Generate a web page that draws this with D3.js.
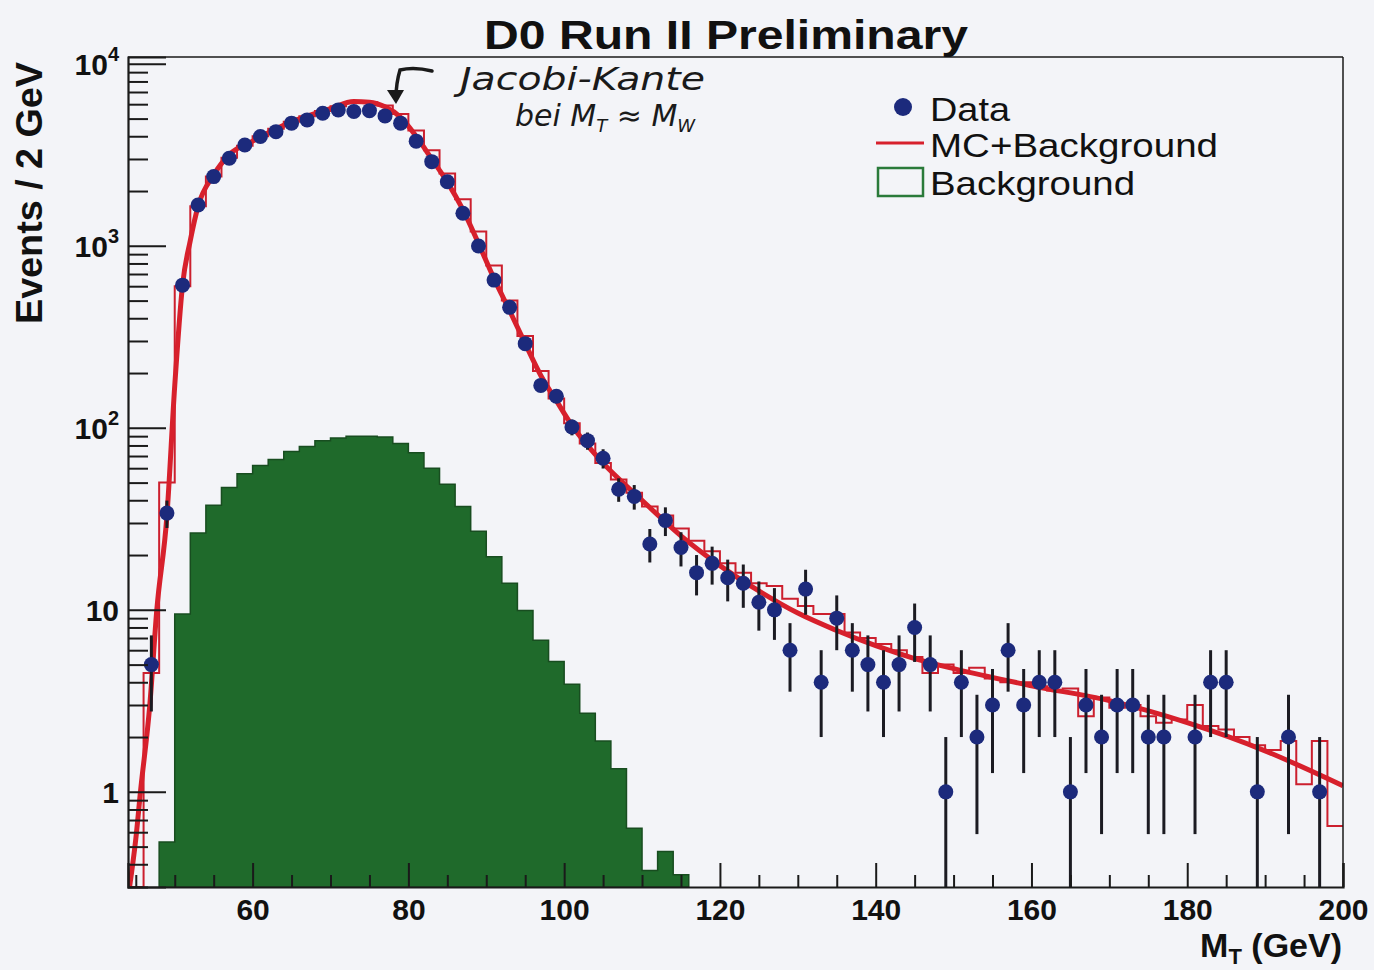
<!DOCTYPE html>
<html>
<head>
<meta charset="utf-8">
<script src="https://cdn.jsdelivr.net/npm/d3@7"></script>
<style>
  html, body { margin: 0; padding: 0; background: #f3f4f8; }
  svg { display: block; }
</style>
</head>
<body>
<svg id="chart" width="1374" height="970"></svg>
<script>
// Transverse mass spectrum, D0 Run II: data, MC+background and background histograms

// Data: bin centres (GeV) and event counts per 2 GeV bin
const dataCenters = d3.range(45, 200, 2);
const dataCounts = [
  0, 5, 34, 608, 1676, 2400, 3030, 3580, 3985, 4240,
  4720, 4920, 5350, 5580, 5470, 5530, 5175, 4720, 3760, 2900,
  2250, 1510, 997, 648, 459, 290, 171, 149, 101, 85,
  68, 46, 42, 23, 31, 22, 16, 18, 15, 14,
  11, 10, 6, 13, 4, 9, 6, 5, 4, 5,
  8, 5, 1, 4, 2, 3, 6, 3, 4, 4,
  1, 3, 2, 3, 3, 2, 2, 0, 2, 4,
  4, 0, 1, 0, 2, 0, 1, 0
];

// MC+Background histogram: lower bin edges (GeV) and contents
const binEdges = d3.range(44, 200, 2);
const mcHist = [
  0.2, 4.5, 50, 600, 1650, 2400, 3050, 3550, 4000, 4400,
  4800, 5150, 5500, 5850, 6100, 6150, 5900, 5300, 4300, 3350,
  2500, 1800, 1200, 780, 500, 320, 205, 145, 106, 82,
  64, 52, 44, 37, 33, 28, 24, 21, 18, 16,
  14, 13.5, 11.5, 10.5, 9.5, 9.5, 7.5, 7, 6.5, 6,
  5.5, 4.5, 5, 4.5, 4.8, 4.2, 4.0, 4.0, 3.8, 3.6,
  3.7, 2.6, 3.3, 2.9, 3.0, 2.6, 2.4, 2.5, 3.0, 2.3,
  2.2, 2.0, 1.8, 1.7, 1.9, 1.1, 1.9, 0.65
];

// Smoothed MC+Background curve (GeV, events)
const mcCurveX = [44.2, 45, 45.6, 46.8, 47.7, 49, 50, 51, 52, 53, 55, 57, 60, 65, 70, 73, 75, 77, 79, 81,
  83, 85, 87, 89, 91, 93, 95, 97, 99, 101, 103, 105, 110, 115, 120, 125, 130, 135, 140, 145,
  150, 160, 170, 180, 190, 200];
const mcCurveY = [0.3, 0.55, 1, 3, 10, 33, 170, 608, 1070, 1650, 2450, 3170, 3760, 4800, 5670, 6200, 6150, 5800, 5080, 4000,
  3000, 2240, 1580, 1030, 660, 440, 290, 194, 141, 103, 80, 64, 40, 25.5, 17.5, 12.7, 9.6, 7.7, 6.35, 5.4,
  4.75, 3.83, 3.17, 2.4, 1.68, 1.08];

// Background histogram: lower bin edges (GeV) and contents
const bkgEdges = d3.range(48, 116, 2);
const bkgHist = [
  0.53, 9.5, 26.4, 37.5, 47, 56, 62, 67, 74, 79,
  85, 88, 90, 90, 89, 82, 73, 60, 49, 37,
  27, 19.6, 14, 9.9, 6.8, 5.2, 3.9, 2.7, 1.9, 1.34,
  0.63, 0.37, 0.47, 0.35
];

// Axis ticks
const xMajorTicks = [60, 80, 100, 120, 140, 160, 180, 200];
const xMinorTicks = d3.range(45, 200, 5).filter(v => v % 20 !== 0);
const yMajorTicks = [1, 10, 100, 1000, 10000];
const yTickLabels = [["1", null], ["10", null], ["10", "2"], ["10", "3"], ["10", "4"]];

const legendLabels = ["Data", "MC+Background", "Background"];

const W = 1374, H = 970;
const plot = { left: 128, right: 1343, top: 57, bottom: 887 };
const FONT = "'Liberation Sans', Arial, Helvetica, sans-serif";

const svg = d3.select("#chart");
svg.append("rect").attr("width", W).attr("height", H).attr("fill", "#f3f4f8");

const x = d3.scaleLinear().domain([44, 200]).range([plot.left, plot.right]);
const y = d3.scaleLog().domain([0.3, 10900]).range([plot.bottom, plot.top]).clamp(true);

svg.append("defs").append("clipPath").attr("id", "plotclip")
  .append("rect")
  .attr("x", plot.left).attr("y", plot.top)
  .attr("width", plot.right - plot.left).attr("height", plot.bottom - plot.top);

const g = svg.append("g").attr("clip-path", "url(#plotclip)");

// Background histogram (filled)
const bkgPts = bkgEdges.map((e, i) => [e, bkgHist[i]]);
bkgPts.push([bkgEdges[bkgEdges.length - 1] + 2, bkgHist[bkgHist.length - 1]]);
const bkgArea = d3.area()
  .x(d => x(d[0]))
  .y0(plot.bottom)
  .y1(d => y(d[1]))
  .curve(d3.curveStepAfter);
g.append("path")
  .datum(bkgPts)
  .attr("d", bkgArea)
  .attr("fill", "#1f6a2b")
  .attr("stroke", "#184d20")
  .attr("stroke-width", 1.5);

// MC+Background histogram outline
const mcPts = binEdges.map((e, i) => [e, mcHist[i]]);
mcPts.push([200, mcHist[mcHist.length - 1]]);
const stepLine = d3.line()
  .x(d => x(d[0]))
  .y(d => y(d[1]))
  .curve(d3.curveStepAfter);
g.append("path")
  .datum(mcPts)
  .attr("d", stepLine)
  .attr("fill", "none")
  .attr("stroke", "#cc1f2e")
  .attr("stroke-width", 2);

// Smooth MC+Background curve
const curvePts = mcCurveX.map((v, i) => [v, mcCurveY[i]]);
g.append("path")
  .datum(curvePts)
  .attr("d", d3.line().x(d => x(d[0])).y(d => y(d[1])).curve(d3.curveMonotoneX))
  .attr("fill", "none")
  .attr("stroke", "#d7202c")
  .attr("stroke-width", 5)
  .attr("stroke-linejoin", "round");

// Data points with Poisson error bars
const pts = dataCenters.map((c, i) => ({ c, n: dataCounts[i] })).filter(d => d.n > 0);
g.selectAll("line.err")
  .data(pts)
  .join("line")
  .attr("class", "err")
  .attr("x1", d => x(d.c)).attr("x2", d => x(d.c))
  .attr("y1", d => y(Math.max(d.n - Math.sqrt(d.n), 0.3)))
  .attr("y2", d => y(d.n + Math.sqrt(d.n)))
  .attr("stroke", "#1b1b22")
  .attr("stroke-width", 3);
g.selectAll("circle.pt")
  .data(pts)
  .join("circle")
  .attr("class", "pt")
  .attr("cx", d => x(d.c))
  .attr("cy", d => y(d.n))
  .attr("r", 7.5)
  .attr("fill", "#1c2a7c");

// Frame
const axisColor = "#1a1a1a";
svg.append("line").attr("x1", plot.left).attr("x2", plot.right).attr("y1", plot.top).attr("y2", plot.top)
  .attr("stroke", axisColor).attr("stroke-width", 1.5);
svg.append("line").attr("x1", plot.right).attr("x2", plot.right).attr("y1", plot.top).attr("y2", plot.bottom)
  .attr("stroke", axisColor).attr("stroke-width", 1.5);

// X axis
const xAxis = d3.axisBottom(x).tickValues(xMajorTicks).tickSize(-24).tickFormat(d3.format("d")).tickPadding(10);
const xa = svg.append("g").attr("transform", `translate(0,${plot.bottom})`).call(xAxis);
xa.select(".domain").attr("stroke", axisColor).attr("stroke-width", 2.2);
xa.selectAll(".tick line").attr("stroke", axisColor).attr("stroke-width", 2);
xa.selectAll(".tick text")
  .attr("y", 33).attr("dy", 0)
  .attr("fill", "#111").attr("font-family", FONT).attr("font-weight", "bold").attr("font-size", 30);
const xMinor = d3.axisBottom(x).tickValues(xMinorTicks).tickSize(-12).tickFormat("");
const xm = svg.append("g").attr("transform", `translate(0,${plot.bottom})`).call(xMinor);
xm.select(".domain").remove();
xm.selectAll(".tick line").attr("stroke", axisColor).attr("stroke-width", 2);

// Y axis
const yMinorTicks = [];
[0.1, 1, 10, 100, 1000].forEach(dec => {
  for (let k = 2; k <= 9; k++) {
    const v = dec * k;
    if (v >= 0.3 && v <= 10900) yMinorTicks.push(v);
  }
});
const yAxis = d3.axisLeft(y).tickValues(yMajorTicks).tickSize(-38).tickFormat("");
const ya = svg.append("g").attr("transform", `translate(${plot.left},0)`).call(yAxis);
ya.select(".domain").attr("stroke", axisColor).attr("stroke-width", 2.2);
ya.selectAll(".tick line").attr("stroke", axisColor).attr("stroke-width", 2);
const yMinor = d3.axisLeft(y).tickValues(yMinorTicks).tickSize(-20).tickFormat("");
const ym = svg.append("g").attr("transform", `translate(${plot.left},0)`).call(yMinor);
ym.select(".domain").remove();
ym.selectAll(".tick line").attr("stroke", axisColor).attr("stroke-width", 2);

// Y tick labels with superscript exponents
yMajorTicks.forEach((v, i) => {
  const [base, exp] = yTickLabels[i];
  const t = svg.append("text")
    .attr("x", 119).attr("y", y(v) + 11)
    .attr("text-anchor", "end")
    .attr("font-family", FONT).attr("font-weight", "bold").attr("font-size", 30)
    .attr("fill", "#111");
  t.append("tspan").text(base);
  if (exp) t.append("tspan").attr("dy", -14).attr("font-size", 20).text(exp);
});

// Title
svg.append("text")
  .attr("x", 726).attr("y", 49)
  .attr("text-anchor", "middle")
  .attr("font-family", FONT).attr("font-weight", "bold").attr("font-size", 40)
  .attr("textLength", 484).attr("lengthAdjust", "spacingAndGlyphs")
  .attr("fill", "#111")
  .text("D0 Run II Preliminary");

// Axis titles
svg.append("text")
  .attr("transform", "translate(42,193) rotate(-90)")
  .attr("text-anchor", "middle")
  .attr("font-family", FONT).attr("font-weight", "bold").attr("font-size", 36)
  .attr("textLength", 262).attr("lengthAdjust", "spacingAndGlyphs")
  .attr("fill", "#111")
  .text("Events / 2 GeV");

const xt = svg.append("text")
  .attr("x", 1342).attr("y", 957)
  .attr("text-anchor", "end")
  .attr("font-family", FONT).attr("font-weight", "bold").attr("font-size", 34)
  .attr("fill", "#111");
xt.append("tspan").text("M");
xt.append("tspan").attr("dy", 7).attr("font-size", 22).text("T");
xt.append("tspan").attr("dy", -7).text(" (GeV)");

// Legend
const leg = svg.append("g").attr("font-family", FONT).attr("font-size", 33).attr("fill", "#111");
leg.append("circle").attr("cx", 903).attr("cy", 107).attr("r", 9).attr("fill", "#1c2a7c");
leg.append("line").attr("x1", 876).attr("x2", 924).attr("y1", 143).attr("y2", 143)
  .attr("stroke", "#d7202c").attr("stroke-width", 3);
leg.append("rect").attr("x", 878).attr("y", 168).attr("width", 45).attr("height", 28)
  .attr("fill", "none").attr("stroke", "#2a7a3a").attr("stroke-width", 2.5);
const legY = [121, 157, 195];
const legLen = [80, 288, 205];
legendLabels.forEach((lab, i) => {
  leg.append("text").attr("x", 930).attr("y", legY[i])
    .attr("textLength", legLen[i]).attr("lengthAdjust", "spacingAndGlyphs")
    .text(lab);
});

// Hand-written note on the Jacobian edge
const note = svg.append("g").attr("fill", "#1a1a1a")
  .attr("font-family", "'DejaVu Sans', sans-serif").attr("font-style", "italic");
note.append("text").attr("x", 460).attr("y", 90).attr("font-size", 32)
  .attr("textLength", 245).attr("lengthAdjust", "spacingAndGlyphs")
  .text("Jacobi-Kante");
const n2 = note.append("text").attr("x", 515).attr("y", 126).attr("font-size", 30);
n2.append("tspan").text("bei M");
n2.append("tspan").attr("dy", 6).attr("font-size", 18).text("T");
n2.append("tspan").attr("dy", -6).text(" \u2248 M");
n2.append("tspan").attr("dy", 6).attr("font-size", 18).text("W");

svg.append("path")
  .attr("d", "M432,71 C420,68 408,68 400,70 C397,80 396,90 396,98")
  .attr("fill", "none").attr("stroke", "#1a1a1a").attr("stroke-width", 3.5).attr("stroke-linecap", "round");
svg.append("path")
  .attr("d", "M387,90 L396,104 L404,90 Z")
  .attr("fill", "#1a1a1a");
</script>
</body>
</html>
